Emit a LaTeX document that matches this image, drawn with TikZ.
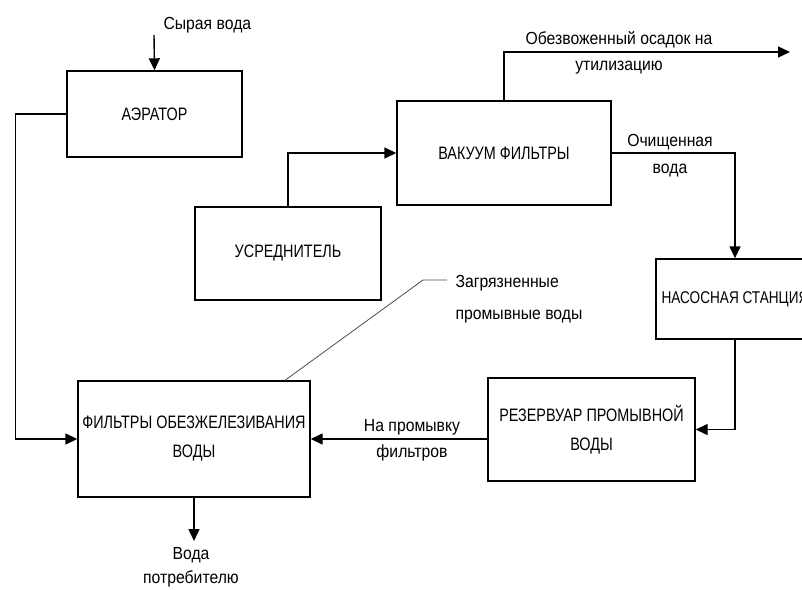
\documentclass[tikz,border=0pt]{standalone}
\usepackage{fontspec}
\setmainfont{Liberation Sans}[FakeStretch=0.8]
\newfontfamily\labelfont{Liberation Sans}[FakeStretch=0.9]
\usetikzlibrary{arrows.meta}

\begin{document}
\begin{tikzpicture}[x=1pt, y=-1pt,
	box/.style={rectangle, draw=black, line width=1.4pt, align=center, inner sep=1pt, font=\fontsize{18}{29}\selectfont},
	lbl/.style={align=center, font=\labelfont\fontsize{17.5}{24}\selectfont},
	flow/.style={line width=1.4pt, -{Triangle[length=12pt, width=11pt]}}]
\useasboundingbox (0,0) rectangle (802,589);
\clip (0,0) rectangle (802,589);

\node[box, minimum width=175pt, minimum height=86pt](aerator) at (154.5,114){АЭРАТОР};
\node[box, minimum width=214pt, minimum height=104pt](vacuum) at (504,153){ВАКУУМ ФИЛЬТРЫ};
\node[box, minimum width=186pt, minimum height=93pt](averager) at (288,253.5){УСРЕДНИТЕЛЬ};
\node[box, minimum width=158pt, minimum height=80pt, font=\fontsize{17}{29}\selectfont](pumpSt) at (735,299){НАСОСНАЯ СТАНЦИЯ};
\node[box, minimum width=207pt, minimum height=103pt](reservoir) at (591.5,429.5){РЕЗЕРВУАР ПРОМЫВНОЙ\\ВОДЫ};
\node[box, minimum width=232pt, minimum height=116pt](filters) at (194,439){ФИЛЬТРЫ ОБЕЗЖЕЛЕЗИВАНИЯ\\ВОДЫ};

\coordinate(rawIn) at (154,35);
\node[lbl, anchor=west](rawLabel) at (160,25){Сырая вода};
\draw[flow] (rawIn) -- (aerator.north);

\draw[flow] (aerator.west) -- ++(-51,0) |- (filters.west);
\draw[flow] (averager.north) |- (vacuum.west);

\coordinate(sludgeOut) at (790,52);
\node[lbl](sludgeHigh) at (619,40){Обезвоженный осадок на};
\node[lbl](sludgeLow) at (619,68){утилизацию};
\draw[flow] (vacuum.north) |- (sludgeOut);

\node[lbl](cleanHigh) at (670,142){Очищенная};
\node[lbl](cleanLow) at (670,171){вода};
\draw[flow] (vacuum.east) -| (pumpSt.north);

\draw[flow] (pumpSt.south) |- (reservoir.east);

\node[lbl](washHigh) at (412,427){На промывку};
\node[lbl](washLow) at (412,453){фильтров};
\draw[flow] (reservoir.west |- filters.east) -- (filters.east);

\coordinate(consumer) at (194,541);
\node[lbl](consumerHigh) at (191,555){Вода};
\node[lbl](consumerLow) at (191,579){потребителю};
\draw[flow] (filters.south) -- (consumer);

\coordinate(dirtyBend) at (423,280);
\coordinate(dirtyEnd) at (447,280);
\node[lbl, anchor=west](dirtyHigh) at (452,283){Загрязненные};
\node[lbl, anchor=west](dirtyLow) at (452,317){промывные воды};
\draw[line width=0.8pt, black!70] ([xshift=91pt]filters.north) -- (dirtyBend) -- (dirtyEnd);
\end{tikzpicture}
\end{document}
